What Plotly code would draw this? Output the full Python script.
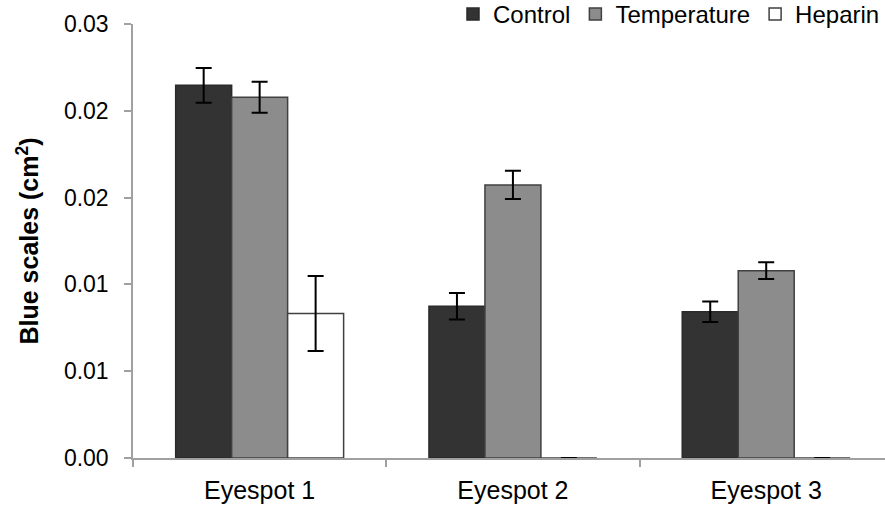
import plotly.graph_objects as go

categories = ["Eyespot 1", "Eyespot 2", "Eyespot 3"]
control = [0.02147, 0.00874, 0.00843]
control_err = [0.00100, 0.00076, 0.00059]
temperature = [0.02078, 0.01573, 0.01079]
temperature_err = [0.00089, 0.00081, 0.00048]
heparin = [0.00833, 0.0, 0.0]
heparin_err = [0.00216, None, None]

y_tickvals = [0, 0.005, 0.01, 0.015, 0.02, 0.025]
y_ticktext = ["0.00", "0.01", "0.01", "0.02", "0.02", "0.03"]

FONT = "Arial, Liberation Sans, sans-serif"

def err(vals):
    return dict(type="data", array=[v if v is not None else 0 for v in vals],
                visible=True, color="black", thickness=2, width=8)

fig = go.Figure()
fig.add_trace(go.Bar(name="Control", x=categories, y=control, error_y=err(control_err),
                     marker=dict(color="#333333", line=dict(color="#2a2a2a", width=1.5))))
fig.add_trace(go.Bar(name="Temperature", x=categories, y=temperature, error_y=err(temperature_err),
                     marker=dict(color="#8c8c8c", line=dict(color="#404040", width=1.5))))
fig.add_trace(go.Bar(name="Heparin", x=categories, y=heparin, error_y=err(heparin_err),
                     marker=dict(color="#ffffff", line=dict(color="#404040", width=1.5))))

fig.update_layout(
    width=885, height=508,
    margin=dict(l=133, r=0, t=24, b=50, autoexpand=False),
    paper_bgcolor="white", plot_bgcolor="white",
    barmode="group", bargap=0.337, bargroupgap=0,
    font=dict(family=FONT, size=22, color="black"),
    legend=dict(orientation="h", x=1.0, xanchor="right", y=1.022, yanchor="middle",
                font=dict(size=24), bgcolor="rgba(0,0,0,0)",
                itemwidth=30, tracegroupgap=0),
    showlegend=True,
)
fig.update_xaxes(
    type="category", range=[-0.5, 2.469],
    showline=True, linecolor="#a0a0a0", linewidth=1.5,
    ticks="outside", tickson="boundaries", ticklen=7, tickcolor="#a0a0a0", tickwidth=1.5,
    showgrid=False, zeroline=False, ticklabelstandoff=9, automargin=False,
    tickfont=dict(size=25),
)
fig.update_yaxes(
    range=[0, 0.025], tickvals=y_tickvals, ticktext=y_ticktext,
    showline=True, linecolor="#a0a0a0", linewidth=1.5,
    ticks="outside", ticklen=7, tickcolor="#a0a0a0", tickwidth=1.5,
    showgrid=False, zeroline=False, tickfont=dict(size=23), automargin=False,
    ticklabelstandoff=11,
    title=dict(text="<b>Blue scales (cm<sup>2</sup>)</b>", font=dict(size=25), standoff=18),
)

fig.write_html("out.html")
